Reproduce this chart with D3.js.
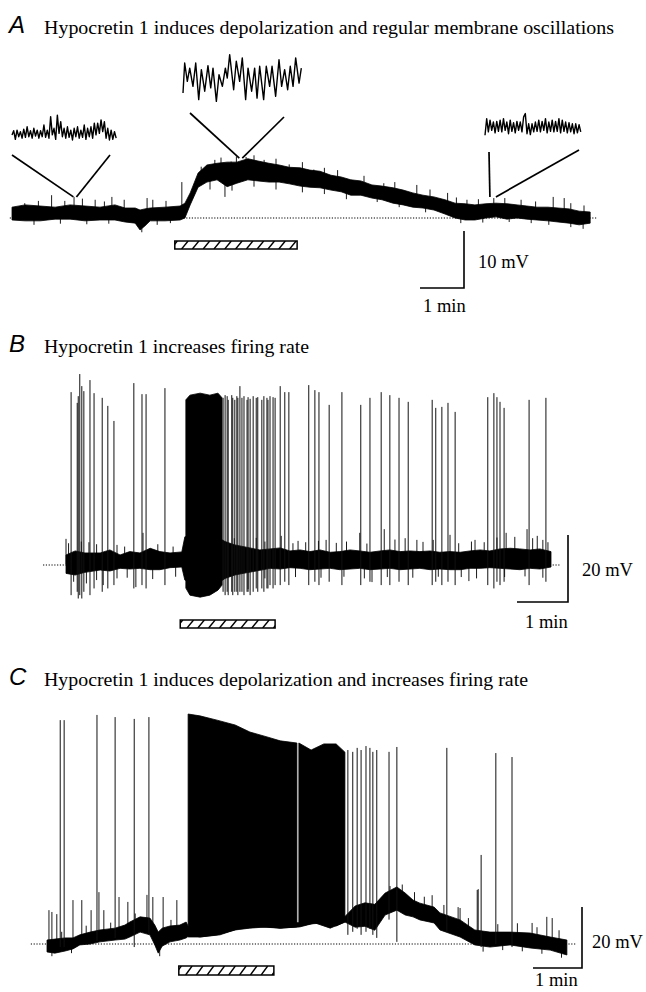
<!DOCTYPE html>
<html lang="en">
<head>
<meta charset="UTF-8">
<title>hypocretin 1 recordings</title>
<script src="https://d3js.org/d3.v7.min.js"></script>
<style>
  body { margin: 0; background: #fff; }
  svg { display: block; }
  .letter { font-family: 'Liberation Sans', Arial, sans-serif; font-style: italic; font-size: 24px; }
  .title { font-family: 'Liberation Serif', 'Times New Roman', serif; font-size: 19px; }
  .scale-label { font-family: 'Liberation Serif', 'Times New Roman', serif; font-size: 18.5px; }
  .baseline { stroke: #000; stroke-width: 1.1; stroke-dasharray: 1.2 1.6; }
  .trace { fill: #000; stroke: #000; stroke-width: 0.8; stroke-linejoin: round; }
  .spike { stroke: #111; stroke-width: 1; }
  .tick { stroke: #000; stroke-width: 0.9; }
  .inset { fill: none; stroke: #000; stroke-width: 1.4; stroke-linejoin: round; }
  .connector { stroke: #000; stroke-width: 1.7; }
  .scalebar { fill: none; stroke: #000; stroke-width: 1.6; }
  .drugbar { fill: none; stroke: #000; stroke-width: 1.5; }
  .hatch { stroke: #000; stroke-width: 1.4; }
</style>
</head>
<body>
<script>
  // ---------- panel A : time in min, voltage in mV above rest ----------
  // envelope rows: [t, lower edge, upper edge]
  const envelopeA = [
    [0, -0.35, 1.9], [0.30, -0.5, 2.3], [0.64, -0.5, 2.1], [0.98, -0.2, 1.9], [1.32, -0.2, 2.3],
    [1.66, -0.5, 2.1], [2.0, -0.35, 1.9], [2.34, -0.35, 2.3], [2.57, -0.7, 1.75], [2.8, -0.9, 1.75],
    [2.91, -2.1, 1.4], [3.02, -1.4, 1.6], [3.14, -0.5, 1.75], [3.48, -0.5, 1.9], [3.82, -0.35, 2.1],
    [3.93, 0, 2.6], [4.05, 2.3, 4.4], [4.23, 5.4, 7.9], [4.43, 6.3, 9.3], [4.66, 6.7, 9.6],
    [4.89, 5.5, 9.8], [5.11, 6.1, 9.8], [5.36, 6.7, 10.4], [5.59, 6.5, 10.0], [5.84, 6.3, 9.6],
    [6.07, 6.3, 9.3], [6.30, 6.0, 8.9], [6.55, 5.6, 8.8], [6.77, 5.4, 8.4], [7.0, 5.3, 8.2],
    [7.25, 4.9, 7.5], [7.48, 4.6, 7.2], [7.70, 4.0, 6.7], [7.93, 4.0, 6.5], [8.18, 3.5, 5.8],
    [8.41, 3.2, 5.6], [8.66, 2.6, 5.3], [8.89, 2.3, 4.9], [9.11, 1.9, 4.4], [9.34, 1.75, 4.0],
    [9.59, 1.4, 3.7], [9.84, 0.7, 3.2], [10.07, 0, 2.6], [10.3, -0.35, 2.5], [10.52, -0.35, 2.3],
    [10.77, 0, 2.5], [11.0, 0.2, 2.6], [11.25, -0.2, 2.5], [11.48, 0, 2.3], [11.7, -0.2, 2.1],
    [11.93, -0.35, 1.9], [12.18, -0.5, 1.9], [12.41, -0.7, 1.75], [12.66, -0.9, 1.6],
    [12.89, -1.2, 1.2], [13.14, -0.9, 1.05]
  ]
  // small noise excursions: [t, tip]
  const ticksA = [
    [0.29, 2.6], [0.6, 3.0], [0.9, 4.0], [1.2, 3.0], [1.41, 3.7], [1.6, 3.4], [1.89, 3.2], [2.1, 2.9],
    [2.27, 3.7], [2.55, 3.2], [3.07, 3.5], [3.2, 3.2], [3.5, 3.0], [3.86, 6.3], [4.3, 9.0], [4.61, 10.2],
    [4.75, 10.6], [4.98, 9.9], [5.1, 10.8], [5.32, 10.7], [5.5, 11.0], [5.73, 10.2], [6.0, 10.4],
    [6.3, 9.4], [6.6, 9.8], [6.86, 8.5], [7.1, 8.8], [7.4, 8.4], [7.8, 6.3], [8.0, 7.4], [8.45, 6.1],
    [8.7, 6.3], [9.2, 5.8], [9.5, 5.0], [9.9, 4.4], [10.1, 3.6], [10.34, 3.2], [10.6, 3.3], [10.95, 3.5],
    [11.2, 3.5], [11.57, 3.2], [11.9, 2.9], [12.3, 3.7], [12.55, 3.5], [12.7, 2.6], [13.0, 2.2],
    [0.5, -1.2], [1.1, -1.0], [1.7, -1.1], [2.2, -1.0], [2.95, -2.5], [3.3, -1.2], [3.6, -0.9],
    [4.5, 5.0], [4.84, 3.7], [5.0, 4.8], [5.5, 5.5], [6.0, 5.0], [6.6, 4.5], [7.1, 4.2], [7.6, 3.3],
    [8.3, 2.8], [8.8, 1.9], [9.4, 1.0], [10.2, -0.9], [10.7, -0.8], [11.3, -0.7], [11.8, -0.9],
    [12.2, -1.2], [12.7, -1.6], [12.98, -1.9]
  ]
  const drugA = [3.7, 6.48]
  const baselineA = [-0.05, 13.3]

  // expanded views (s, mV) and the trace times they come from
  const insetDt = 0.14
  const insetLeft = [-0.3, 1.1, -1.8, 1.3, -0.9, 0.8, -1.4, 1.6, -1.1, 2.4, -0.9, 1.1, -1.4, 1.9, -0.7,
    1.3, -1.4, 1.1, -0.9, 3.0, -1.1, 1.3, -1.4, 5.8, -0.3, 1.9, -1.8, 6.3, 0.2, 4.1, -0.9, 1.9, -1.4,
    2.4, -1.1, 1.3, -2.0, 1.9, -0.9, 2.4, -1.4, 1.3, -1.1, 3.0, -1.8, 1.9, -0.9, 2.4, -1.4, 3.6, -0.3,
    3.6, 0.2, 4.7, 0.8, 4.1, -1.4, 1.9, -2.0, 1.3, -1.8, 0.8, -1.4]
  const insetRight = [-2.4, 3.1, -1.3, 2.6, -0.8, 2.0, -1.6, 2.2, -1.1, 2.6, -1.3, 3.1, -0.8, 2.0,
    -1.9, 2.6, -1.1, 1.8, -1.6, 2.2, -0.8, 2.0, -1.3, 3.7, 4.8, -1.9, 1.4, -2.2, 1.4, -1.3, 2.0, -1.1,
    2.6, -1.3, 2.2, -0.8, 3.1, -1.6, 2.0, -1.1, 2.6, -1.3, 2.2, -1.1, 3.1, -1.6, 2.6, -1.1, 2.0, -1.6,
    1.8, -1.3, 1.4, -1.9, 1.4, -1.6, 1.1, -1.3]
  const insetMiddle = [
    [0, -5.0], [0.14, 5.0], [0.36, -1.1], [0.56, 3.3], [0.83, -2.8], [1.06, 5.0], [1.31, -7.2],
    [1.53, 2.8], [1.81, -4.4], [2.08, 4.1], [2.31, -3.3], [2.5, 3.3], [2.78, -7.8], [3.0, 1.1],
    [3.28, -2.8], [3.53, 3.3], [3.69, 0], [3.89, 7.8], [4.22, -3.9], [4.44, 5.6], [4.72, -1.1],
    [4.94, 6.7], [5.22, -7.2], [5.42, 3.3], [5.72, -4.4], [5.97, 3.3], [6.17, -6.7], [6.39, 3.9],
    [6.72, -7.2], [6.94, 3.9], [7.22, -2.8], [7.42, 3.9], [7.72, -6.1], [8.0, 6.1], [8.22, -2.8],
    [8.47, 2.8], [8.72, -3.9], [8.94, 3.9], [9.17, -2.8], [9.39, 6.7], [9.67, -1.7], [9.86, 3.3]
  ]
  const insetAnchorsA = [[1.43, 3.7], [5.2, 10.5], [10.93, 3.7]]

  // ---------- panel B ----------
  const envelopeB = [
    [0, -2.5, 3.0], [0.18, -3.0, 4.2], [0.37, -2.2, 3.6], [0.67, -1.5, 3.6], [0.86, -1.8, 4.5],
    [1.06, -1.0, 3.0], [1.25, -1.2, 4.0], [1.45, -1.0, 3.6], [1.65, -1.4, 5.0], [1.84, -1.4, 4.0],
    [2.04, -0.8, 3.6], [2.27, -0.6, 3.9], [2.33, -4.5, 8.4], [2.63, -6.0, 9.0], [2.92, -6.0, 8.7],
    [3.12, -4.0, 7.0], [3.31, -3.0, 6.0], [3.51, -2.4, 5.4], [3.80, -1.6, 4.5], [4.0, -1.0, 4.8],
    [4.2, -1.2, 5.1], [4.39, -0.8, 4.2], [4.59, -1.0, 4.5], [4.78, -1.4, 4.0], [4.98, -1.2, 4.5],
    [5.18, -1.0, 3.8], [5.37, -1.4, 4.0], [5.57, -1.2, 4.5], [5.76, -1.0, 4.2], [5.96, -1.4, 3.8],
    [6.16, -1.2, 4.2], [6.35, -1.0, 4.5], [6.55, -1.4, 4.0], [6.75, -1.2, 4.2], [6.94, -1.0, 4.0],
    [7.14, -1.4, 4.2], [7.33, -1.2, 3.8], [7.53, -1.4, 4.0], [7.73, -1.4, 3.8], [7.92, -1.0, 4.2],
    [8.12, -1.0, 4.5], [8.31, -0.8, 4.2], [8.51, -1.0, 4.8], [8.71, -1.2, 5.0], [8.90, -1.4, 4.8],
    [9.10, -1.0, 4.5], [9.29, -1.2, 4.8], [9.51, -0.6, 4.0]
  ]
  // dense firing during the application: [t, lower, upper]
  const burstB = [
    [2.35, -6.9, 49.3], [2.43, -9.0, 50.7], [2.63, -9.6, 51.3], [2.82, -9.0, 50.7],
    [2.98, -7.5, 51.3], [3.06, -6.0, 49.9]
  ]
  // action potentials: [t, peak, trough]
  const spikesB = [
    [0.10, 51.6, -9], [0.22, 48.4, -8], [0.24, 50.4, -10], [0.27, 57.0, -9], [0.31, 53.4, -10],
    [0.35, 51.9, -8], [0.47, 55.2, -9], [0.55, 51.3, -7], [0.71, 49.9, -8], [0.82, 47.5, -7],
    [0.94, 43.0, -6], [1.33, 54.3, -7], [1.49, 51.0, -6], [1.57, 51.0, -7], [1.94, 52.8, -6],
    [3.08, 49.9, -8], [3.12, 50.7, -9], [3.16, 50.4, -8], [3.18, 49.3, -9], [3.25, 50.7, -8],
    [3.27, 49.9, -9], [3.31, 49.3, -8], [3.35, 50.4, -8], [3.37, 49.9, -9], [3.41, 53.4, -8],
    [3.45, 49.9, -8], [3.49, 50.4, -9], [3.55, 49.3, -8], [3.57, 50.1, -8], [3.61, 49.6, -9],
    [3.67, 50.4, -8], [3.73, 49.9, -7], [3.76, 50.1, -8], [3.84, 49.3, -7], [3.88, 50.4, -8],
    [3.94, 49.9, -7], [3.96, 49.3, -7], [4.0, 50.4, -6], [4.06, 50.1, -7], [4.10, 49.9, -6],
    [4.20, 53.4, -6], [4.29, 51.6, -5], [4.37, 51.6, -6], [4.76, 53.7, -6], [4.88, 52.2, -5],
    [4.96, 51.6, -6], [5.16, 47.8, -5], [5.41, 51.6, -6], [5.78, 47.8, -6], [5.96, 49.9, -5],
    [6.18, 51.6, -6], [6.35, 50.7, -6], [6.53, 49.9, -5], [6.71, 48.7, -6], [7.18, 49.3, -6],
    [7.25, 46.9, -5], [7.37, 47.2, -6], [7.49, 48.4, -5], [7.63, 45.7, -6], [8.27, 50.1, -6],
    [8.39, 51.3, -7], [8.45, 50.1, -5], [8.51, 48.7, -6], [8.59, 46.9, -5], [9.08, 49.3, -6],
    [9.41, 49.9, -5]
  ]
  const ticksB = [
    [0.0, 7.8], [0.05, 6.5], [0.3, 7.0], [0.45, 6.8], [0.6, 6.2], [1.0, 6.0], [1.15, 5.5],
    [1.51, 9.6], [1.8, 6.2], [2.1, 5.5], [2.96, 9.0], [3.3, 8.0], [3.73, 8.1], [3.9, 7.0],
    [4.22, 8.7], [4.45, 6.5], [4.55, 7.2], [4.7, 6.8], [4.95, 7.2], [5.1, 7.5], [5.3, 6.6],
    [5.5, 7.0], [5.76, 9.6], [5.9, 6.4], [6.24, 10.7], [6.45, 7.6], [6.65, 8.0], [6.88, 7.5],
    [7.0, 6.9], [7.2, 7.5], [7.53, 9.0], [7.7, 6.5], [7.95, 7.0], [8.02, 7.5], [8.2, 6.8],
    [8.45, 8.2], [8.63, 9.6], [8.8, 8.4], [9.04, 10.7], [9.15, 8.0], [9.24, 8.7], [9.35, 7.5],
    [9.45, 6.8],
    [0.15, -5.0], [0.4, -5.5], [0.6, -4.5], [0.73, -6.0], [1.0, -4.0], [1.2, -3.8], [1.37, -6.6],
    [1.7, -4.2], [2.15, -3.5], [3.57, -7.2], [3.9, -4.0], [4.5, -3.6], [5.0, -3.8], [5.45, -3.5],
    [5.85, -4.0], [6.0, -5.1], [6.3, -3.6], [6.8, -3.8], [7.3, -3.5], [7.75, -3.6], [7.9, -4.8],
    [8.05, -4.0], [8.6, -3.6], [9.0, -3.4], [9.35, -3.8]
  ]
  const drugB = [2.24, 4.1]
  const baselineB = [-0.45, 9.7]

  // ---------- panel C ----------
  const envelopeC = [
    [0, -2.6, 1.3], [0.16, -3.0, 1.6], [0.37, -2.3, 2.0], [0.53, -1.6, 2.0], [0.67, -0.3, 3.0],
    [0.88, 0, 3.9], [1.08, 0.7, 4.6], [1.39, 1.3, 5.2], [1.59, 1.6, 6.2], [1.69, 2.3, 7.2],
    [1.90, 3.9, 8.9], [2.10, 3.0, 8.5], [2.20, -0.3, 6.2], [2.27, -3.0, 3.9], [2.35, -0.7, 5.2],
    [2.51, 0.7, 5.9], [2.71, 1.3, 6.2], [2.84, 2.0, 7.2], [2.92, 3.0, 4.5], [3.12, 2.3, 4.0],
    [3.53, 3.0, 4.5], [3.94, 5.2, 7.0], [4.35, 5.6, 7.0], [4.76, 5.2, 7.0], [5.16, 5.6, 7.0],
    [5.47, 6.9, 8.5], [5.78, 5.2, 7.0], [6.08, 7.2, 9.0], [6.29, 5.5, 12.5], [6.49, 5.8, 13.5],
    [6.69, 4.5, 13.0], [6.90, 9.5, 16.7], [7.14, 11.1, 18.7], [7.31, 9.5, 16.7], [7.47, 8.9, 14.4],
    [7.61, 7.9, 13.4], [7.90, 6.9, 12.1], [8.02, 4.6, 10.2], [8.43, 2.3, 7.9], [8.73, -0.3, 4.6],
    [9.04, -1.0, 3.9], [9.45, -0.3, 3.9], [9.86, -1.3, 3.6], [10.27, -2.0, 2.3], [10.61, -3.6, 1.3]
  ]
  // sustained high-frequency firing, two stretches: [t, lower, upper]
  const burstC1 = [
    [2.88, 2.3, 75.4], [3.12, 2.3, 74.8], [3.47, 3.0, 73.4], [3.84, 4.6, 71.8], [4.14, 5.2, 69.5],
    [4.49, 5.6, 67.9], [4.76, 5.2, 66.6], [5.10, 5.6, 65.9]
  ]
  const burstC2 = [
    [5.14, 5.9, 65.9], [5.39, 6.6, 63.6], [5.65, 6.9, 65.6], [5.90, 5.9, 65.6], [6.08, 7.2, 62.9]
  ]
  const spikesC = [
    [0.27, 73.4, -1], [0.35, 73.4, -1], [1.02, 75.1, 1], [1.39, 74.4, 2], [1.78, 73.8, -1],
    [2.08, 74.4, 3], [6.14, 63.6, 3], [6.24, 63.0, 4], [6.33, 64.3, 5], [6.41, 63.6, 3],
    [6.51, 64.9, 4], [6.59, 64.3, 5], [6.65, 63.0, 3], [6.73, 63.6, 2], [6.98, 63.0, 8],
    [7.14, 64.6, 0.7], [8.16, 64.3, 4], [8.86, 29.2, -1], [9.16, 62.6, 0], [9.49, 61.3, -1]
  ]
  const ticksC = [
    [0.04, 11.1], [0.10, 10.5], [0.20, 9.8], [0.3, 4.0], [0.53, 14.4], [0.71, 14.4], [0.8, 6.0],
    [0.90, 11.1], [1.06, 17.0], [1.16, 11.1], [1.3, 7.0], [1.47, 15.4], [1.65, 13.8], [1.8, 10.0],
    [2.04, 16.1], [2.16, 15.4], [2.37, 15.4], [2.53, 7.9], [2.65, 14.4], [7.0, 19.0], [7.25, 19.5],
    [7.5, 17.0], [7.7, 15.5], [7.86, 16.0], [8.1, 12.8], [8.39, 12.1], [8.43, 11.8], [8.6, 8.5],
    [8.78, 17.7], [8.80, 18.0], [9.2, 6.5], [9.6, 6.8], [9.9, 6.9], [10.0, 5.5], [10.2, 8.9],
    [10.31, 8.5], [10.45, 4.5],
    [0.1, -4.0], [0.5, -3.0], [2.3, -4.0], [8.9, -2.5], [9.3, -2.0], [9.7, -2.4], [10.1, -3.2],
    [10.5, -4.5]
  ]
  const drugC = [2.69, 4.63]
  const baselineC = [-0.33, 10.8]

  const titles = [
    'Hypocretin 1 induces depolarization and regular membrane oscillations',
    'Hypocretin 1 increases firing rate',
    'Hypocretin 1 induces depolarization and increases firing rate'
  ]
  const letters = ['A', 'B', 'C']
  const scaleLabels = [['10 mV', '1 min'], ['20 mV', '1 min'], ['20 mV', '1 min']]
  const scaleMV = [10, 20, 20]

  // ---------- drawing ----------
  const WIDTH = 646
  const HEIGHT = 992
  const svg = d3.select('body').append('svg')
    .attr('width', WIDTH).attr('height', HEIGHT)
    .attr('viewBox', [0, 0, WIDTH, HEIGHT])

  const panels = [
    { x0: 12, pxMin: 44, y0: 218, pxMV: 5.7, titleY: 34, titleW: 570, env: envelopeA, bursts: [],
      spikes: [], ticks: ticksA, drug: drugA, base: baselineA, barY: 241, barH: 8,
      corner: [464, 288], mvLabel: [478, 268], minLabel: [423, 312] },
    { x0: 66, pxMin: 51, y0: 565, pxMV: 3.35, titleY: 353, titleW: 265, env: envelopeB, bursts: [burstB],
      spikes: spikesB, ticks: ticksB, drug: drugB, base: baselineB, barY: 620, barH: 8,
      corner: [568, 602], mvLabel: [582, 576], minLabel: [525, 628] },
    { x0: 47, pxMin: 49, y0: 944, pxMV: 3.05, titleY: 686, titleW: 484, env: envelopeC, bursts: [burstC1, burstC2],
      spikes: spikesC, ticks: ticksC, drug: drugC, base: baselineC, barY: 966, barH: 9,
      corner: [582, 968], mvLabel: [592, 948], minLabel: [535, 986] }
  ]

  panels.forEach((p, i) => {
    const x = d3.scaleLinear().domain([0, 1]).range([p.x0, p.x0 + p.pxMin])
    const y = d3.scaleLinear().domain([0, 1]).range([p.y0, p.y0 - p.pxMV])
    const g = svg.append('g').attr('class', 'panel')

    g.append('text').attr('class', 'letter').attr('x', 9).attr('y', p.titleY - 1).text(letters[i])
    g.append('text').attr('class', 'title').attr('x', 44).attr('y', p.titleY)
      .attr('textLength', p.titleW).attr('lengthAdjust', 'spacingAndGlyphs').text(titles[i])

    // resting level
    g.append('line').attr('class', 'baseline')
      .attr('x1', x(p.base[0])).attr('x2', x(p.base[1]))
      .attr('y1', y(0)).attr('y2', y(0))

    const area = d3.area().x(d => x(d[0])).y0(d => y(d[1])).y1(d => y(d[2]))
    g.append('path').attr('class', 'trace').attr('d', area(p.env))
    p.bursts.forEach(b => g.append('path').attr('class', 'trace').attr('d', area(b)))

    const bis = d3.bisector(d => d[0]).left
    const mid = t => {
      const j = Math.max(1, Math.min(p.env.length - 1, bis(p.env, t)))
      const a = p.env[j - 1], b = p.env[j]
      const f = Math.max(0, Math.min(1, (t - a[0]) / (b[0] - a[0])))
      return ((a[1] + a[2]) / 2) * (1 - f) + ((b[1] + b[2]) / 2) * f
    }
    g.selectAll('.tick').data(p.ticks).enter().append('line').attr('class', 'tick')
      .attr('x1', d => x(d[0])).attr('x2', d => x(d[0]))
      .attr('y1', d => y(mid(d[0]))).attr('y2', d => y(d[1]))

    g.selectAll('.spike').data(p.spikes).enter().append('line').attr('class', 'spike')
      .attr('x1', d => x(d[0])).attr('x2', d => x(d[0]))
      .attr('y1', d => y(d[2])).attr('y2', d => y(d[1]))

    // application bar (hatched)
    const bx0 = x(p.drug[0]), bx1 = x(p.drug[1])
    const clipId = 'bar' + i
    g.append('clipPath').attr('id', clipId).append('rect')
      .attr('x', bx0).attr('y', p.barY).attr('width', bx1 - bx0).attr('height', p.barH)
    const hatchX = d3.range(bx0 - 4, bx1 + 4, 10.8)
    g.append('g').attr('clip-path', `url(#${clipId})`)
      .selectAll('line').data(hatchX).enter().append('line').attr('class', 'hatch')
      .attr('x1', d => d).attr('y1', p.barY + p.barH)
      .attr('x2', d => d + 6.5).attr('y2', p.barY)
    g.append('rect').attr('class', 'drugbar')
      .attr('x', bx0).attr('y', p.barY).attr('width', bx1 - bx0).attr('height', p.barH)

    // scale bar
    const [cx, cy] = p.corner
    const hLen = x(1) - x(0), vLen = y(0) - y(scaleMV[i])
    g.append('path').attr('class', 'scalebar')
      .attr('d', `M${cx - hLen},${cy}H${cx}V${cy - vLen}`)
    g.append('text').attr('class', 'scale-label').attr('x', p.mvLabel[0]).attr('y', p.mvLabel[1]).text(scaleLabels[i][0])
    g.append('text').attr('class', 'scale-label').attr('x', p.minLabel[0]).attr('y', p.minLabel[1]).text(scaleLabels[i][1])

    if (i === 0) {
      // expanded segments of trace A
      const ix = d3.scaleLinear().domain([0, 1]).range([0, 12])     // 12 px per s
      const iy = d3.scaleLinear().domain([0, 1]).range([0, -3])     // 3 px per mV
      const seqLine = d3.line().x((d, k) => ix(k * insetDt)).y(d => iy(d))
      const pairLine = d3.line().x(d => ix(d[0])).y(d => iy(d[1]))
      g.append('path').attr('class', 'inset').attr('transform', 'translate(12,134)').attr('d', seqLine(insetLeft))
      g.append('path').attr('class', 'inset').attr('transform', 'translate(183,78)').attr('d', pairLine(insetMiddle))
      g.append('path').attr('class', 'inset').attr('transform', 'translate(485,128)').attr('d', seqLine(insetRight))

      const starts = [[[12, 155], [110, 155]], [[190, 113], [284, 117]], [[489, 152], [579, 150]]]
      const gaps = [1.5, 1.5, 3]
      insetAnchorsA.forEach((a, k) => {
        const ax = x(a[0]), ay = y(a[1])
        starts[k].forEach((s, side) => {
          g.append('line').attr('class', 'connector')
            .attr('x1', s[0]).attr('y1', s[1])
            .attr('x2', ax + (side ? gaps[k] : -gaps[k])).attr('y2', ay)
        })
      })
    }
  })
</script>
</body>
</html>
